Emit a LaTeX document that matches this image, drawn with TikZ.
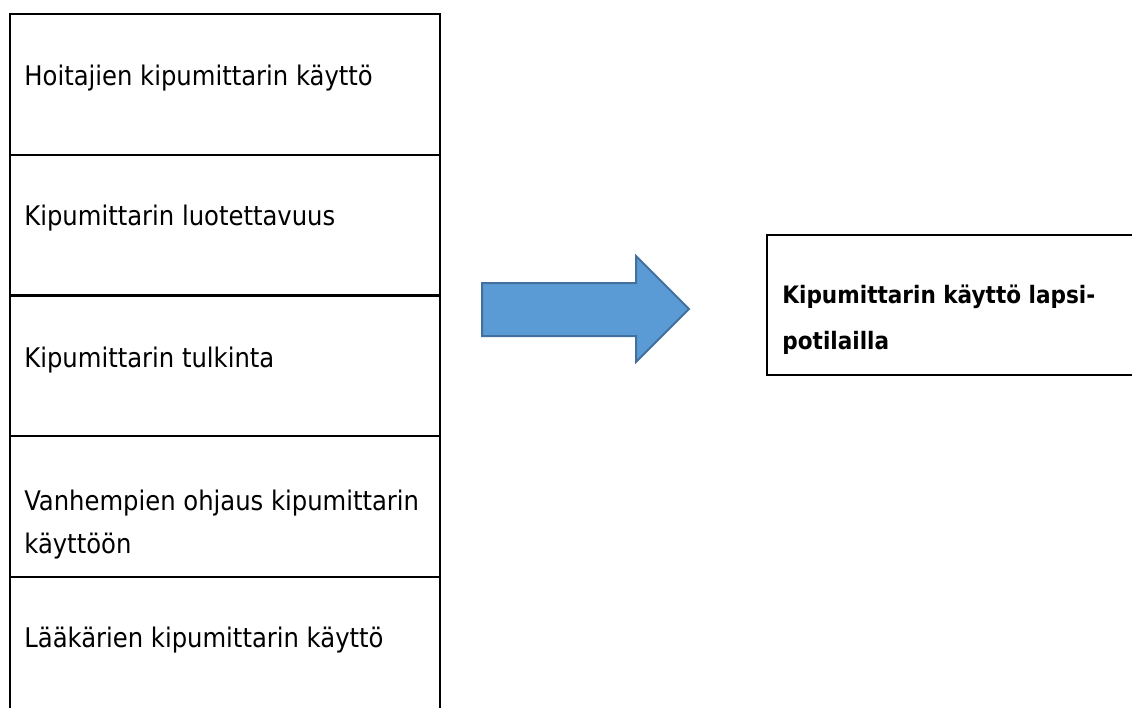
\documentclass[tikz,border=0pt]{standalone}
\usepackage{fontspec}
\setmainfont{DejaVu Sans Condensed}
\usetikzlibrary{positioning}
\definecolor{arrowblue}{HTML}{5B9BD5}
\definecolor{arrowedge}{HTML}{41719C}

\begin{document}
\begin{tikzpicture}[x=0.5pt,y=-0.5pt,
  cell/.style={draw=black,line width=1.2pt,minimum width=215pt,minimum height=70.5pt,
               anchor=north west,inner sep=0pt,outer sep=0pt},
  celltext/.style={anchor=base west,inner sep=0pt,align=left,
               font=\fontsize{13.5}{21.5}\selectfont}]
\useasboundingbox (0,0) rectangle (1132,708);

% left column
\node[cell] (hoitajat) at (10,14)  {};
\node[cell] (luotettavuus) at (10,155) {};
\node[cell] (tulkinta) at (10,295) {};
\node[cell] (vanhemmat) at (10,436) {};
\node[cell] (laakarit) at (10,577) {};

\node[celltext] (hoitajatText) at (24,85)  {Hoitajien kipumittarin käyttö};
\node[celltext] (luotettavuusText) at (24,225) {Kipumittarin luotettavuus};
\node[celltext] (tulkintaText) at (24,367) {Kipumittarin tulkinta};
\node[celltext] (vanhemmatText) at (24,553) {Vanhempien ohjaus kipumittarin\\käyttöön};
\node[celltext] (laakaritText) at (24,647) {Lääkärien kipumittarin käyttö};

% arrow
\filldraw[fill=arrowblue,draw=arrowedge,line width=1pt,line join=miter]
  (482,283) -- (636,283) -- (636,256) -- (689,309) -- (636,362)
  -- (636,336) -- (482,336) -- cycle;

% result
\node[draw=black,line width=1.2pt,anchor=north west,inner sep=0pt,
      minimum width=190pt,minimum height=70pt] (kaytto) at (766,234) {};
\node[celltext,font=\fontsize{12}{23}\selectfont\bfseries] (kayttoText) at (782,349)
  {Kipumittarin käyttö lapsi-\\potilailla};
\end{tikzpicture}
\end{document}
